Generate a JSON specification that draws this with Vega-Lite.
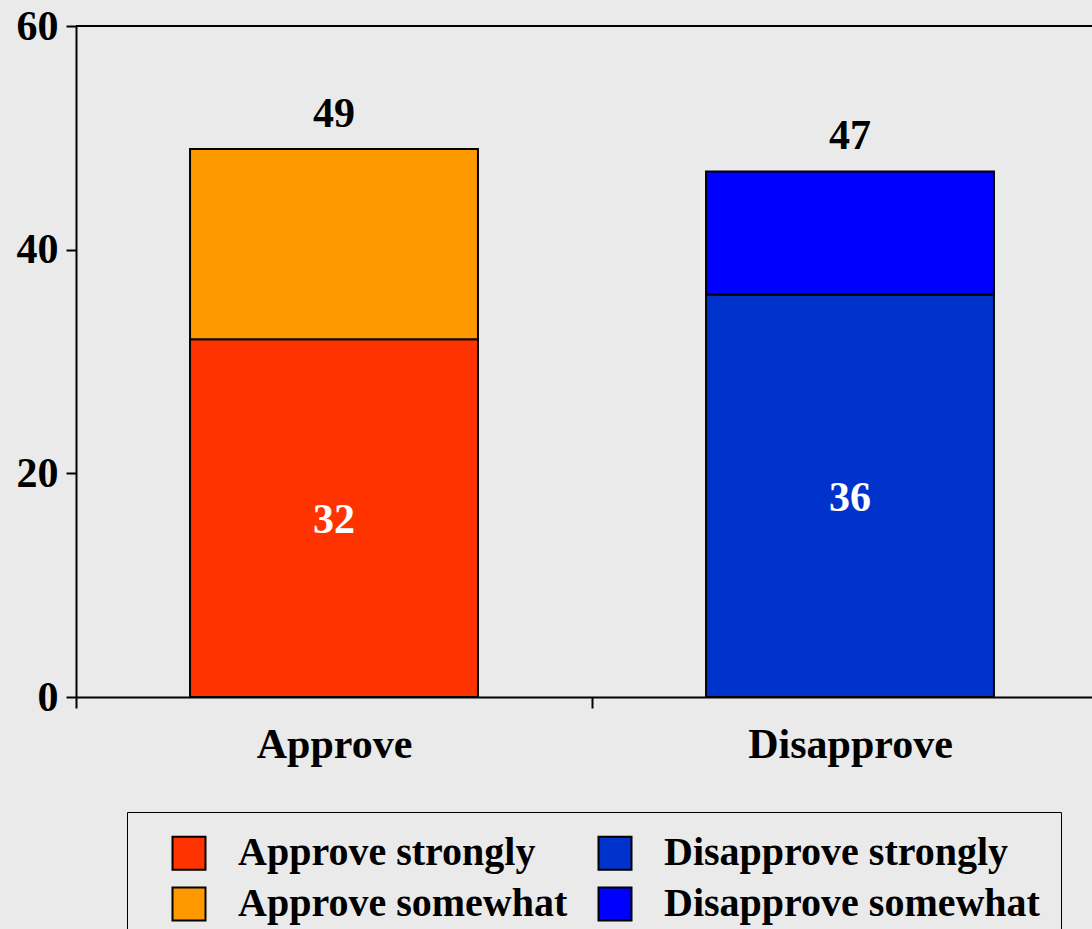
{
  "$schema": "https://vega.github.io/schema/vega-lite/v6.json",
  "autosize": {"type": "none"},
  "padding": {"left": 76, "top": 26, "right": 0, "bottom": 232},
  "width": 1016,
  "height": 671,
  "background": "#EAEAEA",
  "data": {
    "values": [
      {"cat": "Approve", "type": "Approve strongly", "v": 32, "ord": 0},
      {"cat": "Approve", "type": "Approve somewhat", "v": 17, "ord": 1},
      {"cat": "Disapprove", "type": "Disapprove strongly", "v": 36, "ord": 0},
      {"cat": "Disapprove", "type": "Disapprove somewhat", "v": 11, "ord": 1}
    ]
  },
  "layer": [
    {
      "mark": {"type": "bar", "stroke": "black", "strokeWidth": 2, "opacity": 1, "width": {"band": 0.558}},
      "encoding": {
        "x": {
          "field": "cat",
          "type": "nominal",
          "sort": ["Approve", "Disapprove"],
          "scale": {"paddingInner": 0, "paddingOuter": 0, "range": [0, 1032]},
          "axis": {
            "title": null,
            "labelAngle": 0,
            "labelFont": "Liberation Serif",
            "labelFontSize": 42,
            "labelFontWeight": "bold",
            "labelColor": "black",
            "labelLimit": 0,
            "labelPadding": 16,
            "tickSize": 11,
            "tickWidth": 2,
            "tickColor": "black",
            "domainColor": "black",
            "domainWidth": 2,
            "tickBand": "extent",
            "grid": false
          }
        },
        "y": {
          "field": "v",
          "type": "quantitative",
          "stack": "zero",
          "scale": {"domain": [0, 60], "nice": false},
          "axis": {
            "title": null,
            "values": [0, 20, 40, 60],
            "format": "d",
            "labelFont": "Liberation Serif",
            "labelFontSize": 42,
            "labelFontWeight": "bold",
            "labelColor": "black",
            "labelPadding": 8,
            "tickSize": 10,
            "tickWidth": 2,
            "tickColor": "black",
            "domainColor": "black",
            "domainWidth": 2,
            "grid": false
          }
        },
        "order": {"field": "ord", "type": "quantitative", "sort": "ascending"},
        "color": {
          "field": "type",
          "type": "nominal",
          "scale": {
            "domain": ["Approve strongly", "Approve somewhat", "Disapprove strongly", "Disapprove somewhat"],
            "range": ["#FF3300", "#FF9900", "#0033CC", "#0000FF"]
          },
          "legend": {
            "title": null,
            "orient": "none",
            "legendX": 51,
            "legendY": 786,
            "columns": 2,
            "symbolType": "square",
            "symbolSize": 1089,
            "symbolStrokeColor": "black",
            "symbolStrokeWidth": 2,
            "symbolOpacity": 1,
            "symbolOffset": 21,
            "labelFont": "Liberation Serif",
            "labelFontSize": 40,
            "labelFontWeight": "bold",
            "labelColor": "black",
            "labelLimit": 0,
            "labelOffset": 29,
            "rowPadding": 9,
            "columnPadding": 6,
            "padding": 21,
            "strokeColor": "black"
          }
        }
      }
    },
    {
      "mark": {"type": "rule", "stroke": "black", "strokeWidth": 2},
      "encoding": {
        "y": {"datum": 60, "type": "quantitative", "scale": {"domain": [0, 60], "nice": false}, "axis": null}
      }
    },
    {
      "mark": {"type": "text", "baseline": "alphabetic", "dy": -22, "font": "Liberation Serif", "fontSize": 42, "fontWeight": "bold", "color": "black"},
      "encoding": {
        "x": {"field": "cat", "type": "nominal", "sort": ["Approve", "Disapprove"]},
        "y": {"aggregate": "sum", "field": "v", "type": "quantitative", "scale": {"domain": [0, 60], "nice": false}, "axis": null},
        "text": {"aggregate": "sum", "field": "v", "type": "quantitative"}
      }
    },
    {
      "transform": [{"filter": "datum.ord == 0"}],
      "mark": {"type": "text", "baseline": "middle", "dy": 2, "font": "Liberation Serif", "fontSize": 42, "fontWeight": "bold", "color": "white"},
      "encoding": {
        "x": {"field": "cat", "type": "nominal", "sort": ["Approve", "Disapprove"]},
        "y": {"field": "v", "type": "quantitative", "stack": null, "scale": {"domain": [0, 120], "nice": false}, "axis": null},
        "text": {"field": "v", "type": "quantitative"}
      }
    }
  ],
  "resolve": {"scale": {"y": "independent"}},
  "config": {"view": {"stroke": null}}
}
